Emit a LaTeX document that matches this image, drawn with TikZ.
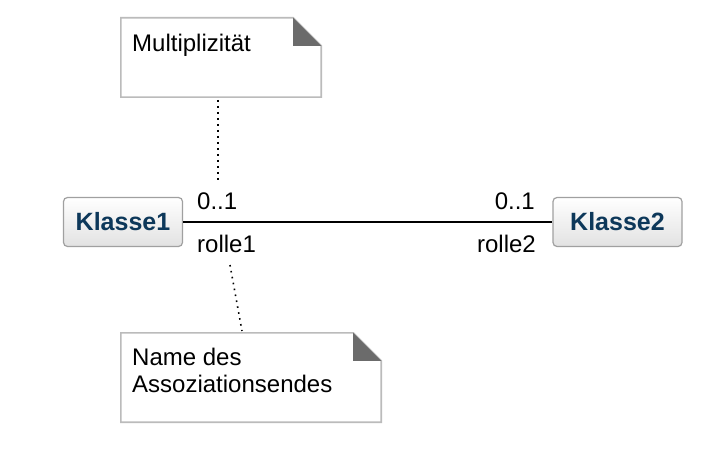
\documentclass[tikz,border=0pt]{standalone}
\usepackage{fontspec}
\setmainfont{Liberation Sans}
\definecolor{clsText}{RGB}{13,56,90}
\definecolor{noteLine}{RGB}{187,187,187}
\definecolor{foldFill}{RGB}{107,107,107}
\definecolor{clsLine}{RGB}{160,160,160}
\definecolor{clsBottom}{RGB}{226,226,226}
\begin{document}
\begin{tikzpicture}[x=1pt,y=-1pt,
  txt/.style={inner sep=0pt,font=\fontsize{24}{27}\selectfont},
  clsbox/.style={draw=clsLine,line width=1.2pt,rounded corners=4pt,top color=white,bottom color=clsBottom,
    minimum width=119pt,minimum height=49pt,inner sep=0pt,text=clsText,font=\fontsize{25}{27}\selectfont\bfseries},
  notebox/.style={draw=none,inner sep=0pt,minimum width=#1},
  noteline/.style={draw=noteLine,line width=1.6pt,fill=white},
  foldtri/.style={fill=foldFill,draw=none},
  dotline/.style={line width=1.6pt,dash pattern=on 1.6pt off 4.4pt}
]
\useasboundingbox (0,0) rectangle (722,470);

% note 1
\node[notebox=200pt,minimum height=79pt] (n1) at (221,57.5) {};
\draw[noteline] (n1.north west) -- ([xshift=-28pt]n1.north east) -- ([yshift=-28pt]n1.north east) -- (n1.south east) -- (n1.south west) -- cycle;
\fill[foldtri] ([xshift=-28pt]n1.north east) -- ([xshift=-28pt,yshift=-28pt]n1.north east) -- ([yshift=-28pt]n1.north east) -- cycle;
\node[txt,anchor=base west] (t1) at (132,52) {Multiplizität};

% note 2
\node[notebox=260pt,minimum height=89pt] (n2) at (251,377.5) {};
\draw[noteline] (n2.north west) -- ([xshift=-28pt]n2.north east) -- ([yshift=-28pt]n2.north east) -- (n2.south east) -- (n2.south west) -- cycle;
\fill[foldtri] ([xshift=-28pt]n2.north east) -- ([xshift=-28pt,yshift=-28pt]n2.north east) -- ([yshift=-28pt]n2.north east) -- cycle;
\node[txt,anchor=base west] (t2a) at (132,365) {Name des};
\node[txt,anchor=base west] (t2b) at (132,392) {Assoziationsendes};

% classes
\node[clsbox] (k1) at (123,222) {Klasse1};
\node[clsbox,minimum width=129pt] (k2) at (617.5,222) {Klasse2};
\draw[line width=1.6pt] (k1.east) -- (k2.west);

% end labels
\node[txt,anchor=base west] (m1) at (197,210) {0..1};
\node[txt,anchor=base west] (r1) at (197,252) {rolle1};
\node[txt,anchor=base east] (m2) at (535,210) {0..1};
\node[txt,anchor=base east] (r2) at (536,252) {rolle2};

% dotted note connectors
\coordinate (d1a) at (217.7,100);
\coordinate (d1b) at (217.7,180);
\draw[dotline] (d1a) -- (d1b);
\coordinate (d2a) at (230,265);
\coordinate (d2b) at (242,331);
\draw[dotline] (d2a) -- (d2b);
\end{tikzpicture}
\end{document}
